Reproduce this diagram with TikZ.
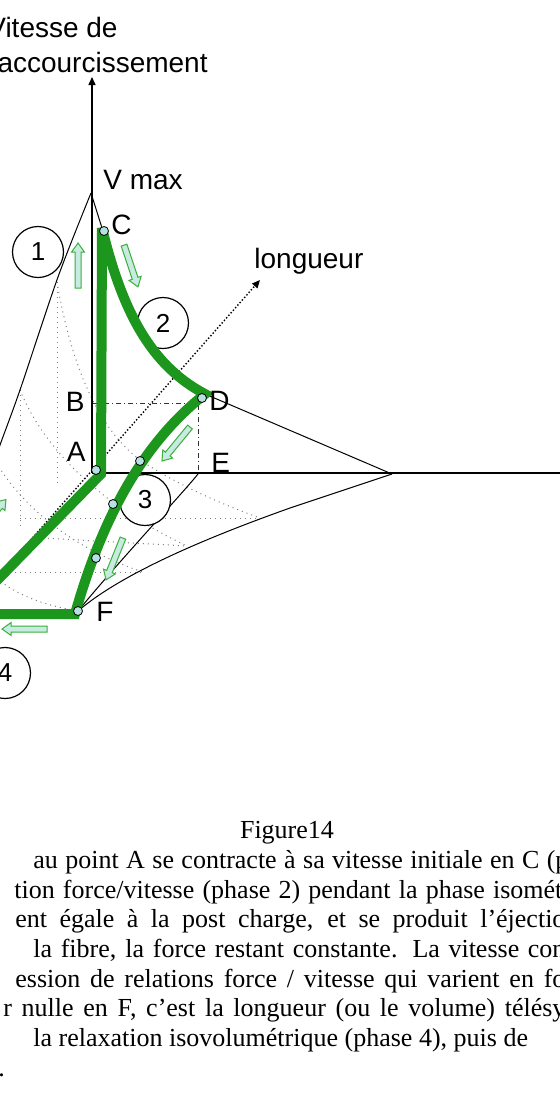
\documentclass[tikz,border=0pt]{standalone}
\usepackage{fontspec}
\setmainfont{Liberation Serif}
\newfontfamily\arialf{Liberation Sans}
\usetikzlibrary{arrows.meta}
\definecolor{pgreen}{RGB}{28,150,28}
\definecolor{dotfill}{RGB}{180,225,225}
\definecolor{arrgreen}{RGB}{60,175,60}
\definecolor{arrfill}{RGB}{200,235,225}
\newcommand\blockarr[4]{%
  \begin{scope}[shift={(#1,#2)}, x=1pt, y=1pt, rotate=#3]
    \draw[barrow] ({-#4/2},-1.5) -- ({#4/2-4.5},-1.5) -- ({#4/2-4.5},-3.2) -- ({#4/2},0)
      -- ({#4/2-4.5},3.2) -- ({#4/2-4.5},1.5) -- ({-#4/2},1.5) -- cycle;
  \end{scope}}
\begin{document}
\begin{tikzpicture}[x=0.5pt,y=-0.5pt,
  lbl/.style={font=\arialf\fontsize{14pt}{16pt}\selectfont, inner sep=0pt},
  num/.style={circle, draw, fill=white, line width=0.6pt, minimum size=25.5pt, inner sep=0pt, font=\arialf\fontsize{13pt}{15pt}\selectfont},
  axis/.style={line width=0.7pt, black},
  thinline/.style={line width=0.5pt, black},
  mesh/.style={line width=0.5pt, black!50, dotted},
  dashdot/.style={line width=0.5pt, black!80, dash pattern=on 2.5pt off 1.5pt on 0.5pt off 1.5pt},
  greenpath/.style={line width=5pt, pgreen, line join=miter, miter limit=2},
  pt/.style={circle, draw, line width=0.4pt, fill=dotfill, minimum size=4.5pt, inner sep=0pt},
  barrow/.style={draw=arrgreen, fill=arrfill, line width=0.5pt, line join=miter},
  txt/.style={font=\fontsize{13pt}{15pt}\selectfont, inner sep=0pt, anchor=base west}
]
\fill[white] (0,0) rectangle (560,1120);
\useasboundingbox (0,0) rectangle (560,1120);
\clip (0,0) rectangle (560,1120);

% named coordinates
\coordinate (A) at (92,473);
\coordinate (Vtop) at (92,77);
\coordinate (Xend) at (575,473);
\coordinate (Vmax) at (91,193);
\coordinate (Cp) at (102,228);
\coordinate (Dp) at (205,394);
\coordinate (Fz) at (392,474);
\coordinate (Ep) at (198,474);
\coordinate (Fp) at (78,611);
\coordinate (Bp) at (92,403);
\coordinate (Dd) at (198,403);
\coordinate (Lstart) at (-10,586);
\coordinate (Lend) at (260,280);

% mesh (dotted grey)
\draw[mesh] (57,282) -- (57,483);
\draw[mesh] (20,390) -- (20,527);
\draw[mesh] (20,518) -- (260,518);
\draw[mesh] (43,538) -- (187,546);
\draw[mesh] (-5,572) -- (143,572);
\draw[mesh] (57,282) .. controls (72,370) and (100,430) .. (140,460) .. controls (170,480) and (210,500) .. (260,518);
\draw[mesh] (20,390) .. controls (40,440) and (90,500) .. (187,546);
\draw[mesh] (-15,440) .. controls (5,490) and (60,545) .. (143,572);
\draw[mesh] (-20,560) .. controls (0,590) and (40,605) .. (Fp);

% thin black curves
\draw[thinline] plot[smooth, tension=0.5] coordinates {(91,193) (58,277) (20,390) (0,445) (-12,480)};
\draw[thinline] (Vmax) -- (Cp) .. controls (122,310) and (150,365) .. (Dp) -- (Fz);
\draw[thinline] (Fz) -- (290,508) .. controls (200,540) and (120,575) .. (Fp);
\draw[thinline] (Ep) .. controls (182,494) and (120,560) .. (Fp);

% dash-dot guides
\draw[dashdot] (Bp) -- (Dd) -- (Ep);

% axes
\draw[axis, -{Triangle[length=4pt,width=3.5pt]}] (A) -- (Vtop);
\draw[axis] (A) -- (Xend);
\draw[line width=0.7pt, densely dotted, -{Triangle[length=4pt,width=3.5pt]}] (Lstart) -- (Lend);

% number circles
\node[num] (n1) at (38,252) {1};
\node[num] (n2) at (163,323) {2};
\node[num] (n3) at (145,500) {3};
\node[num] (n4) at (5,673) {4};

% green loop
\draw[greenpath] (-30,614) -- (75,614) .. controls (110,490) and (160,430) .. (Dp)
   .. controls (150,365) and (122,310) .. (Cp) -- (101,474) -- (-30,608);

% points
\node[pt] (pA) at (96,470) {};
\node[pt] (pC) at (104,231) {};
\node[pt] (pD) at (202,398) {};
\node[pt] (p1) at (140,461) {};
\node[pt] (p2) at (113,504) {};
\node[pt] (p3) at (96,558) {};
\node[pt] (pF) at (78,611) {};

% block arrows (centre x, centre y, angle, length in pt)
\blockarr{78}{265.5}{90}{22.5}
\blockarr{131}{266}{-71.6}{22}
\blockarr{176}{444}{-129.5}{22}
\blockarr{114.5}{559}{-112}{22.5}
\blockarr{24.5}{629}{180}{22.5}
\blockarr{-9}{517}{49.4}{23}

% labels
\node[lbl, anchor=base east] (t1) at (118,37) {Vitesse de};
\node[lbl, anchor=base east] (t2) at (208,72) {accourcissement};
\node[lbl, anchor=base west] (tv) at (103,189) {V max};
\node[lbl, anchor=west] (tC) at (111,225) {C};
\node[lbl, anchor=west] (tD) at (209,401) {D};
\node[lbl, anchor=west] (tE) at (211,463) {E};
\node[lbl, anchor=west] (tF) at (96,612) {F};
\node[lbl, anchor=east] (tB) at (85,402) {B};
\node[lbl, anchor=east] (tA) at (86,452) {A};
\node[lbl, anchor=base west] (tL) at (254,268) {longueur};

% caption text
\node[txt, anchor=base] (fig) at (287,838) {Figure14};
\node[txt] (l1) at (33,868) {\makebox[267.5pt][s]{au point A se contracte à sa vitesse initiale en C (p}};
\node[txt] (l2) at (14,898) {\makebox[274pt][s]{tion force/vitesse (phase 2) pendant la phase isomét}};
\node[txt] (l3) at (15,927) {\makebox[275pt][s]{ent égale à la post charge, et se produit l’éjectio}};
\node[txt] (l4) at (33,957) {\makebox[266pt][s]{la fibre, la force restant constante. La vitesse con}};
\node[txt] (l5) at (15,987) {\makebox[275pt][s]{ession de relations force / vitesse qui varient en fo}};
\node[txt] (l6) at (3,1016) {\makebox[281pt][s]{r nulle en F, c’est la longueur (ou le volume) télésy}};
\node[txt] (l7) at (33,1046) {la relaxation isovolumétrique (phase 4), puis de};
\node[txt] (l8) at (-2,1076) {.};
\end{tikzpicture}
\end{document}
